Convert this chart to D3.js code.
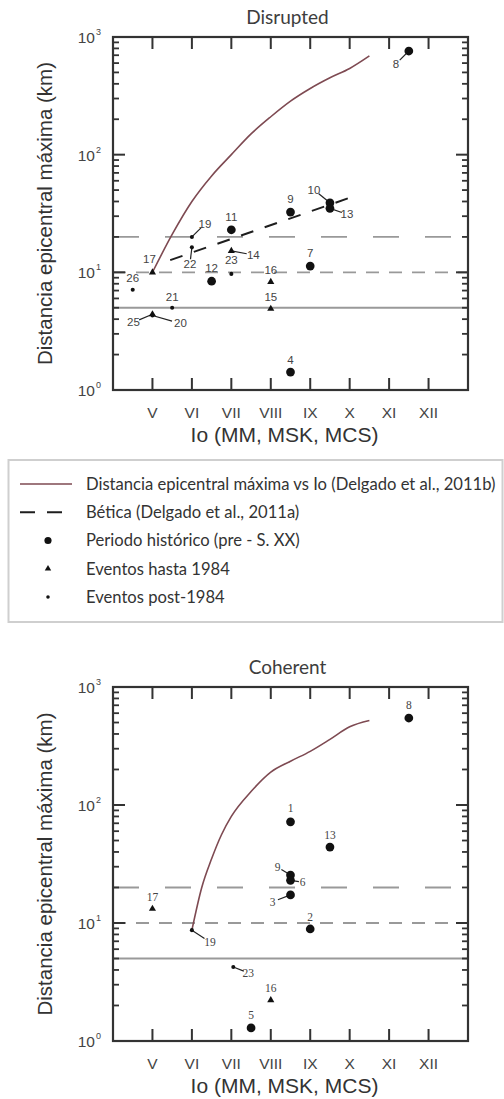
<!DOCTYPE html>
<html>
<head>
<meta charset="utf-8">
<script src="https://cdn.jsdelivr.net/npm/d3@7"></script>
<style>
  body { margin: 0; background: #fff; }
  svg { display: block; }
</style>
</head>
<body>
<svg id="chart" width="504" height="1099"></svg>
<script>
// ---- data ----
const ioTicks = [5, 6, 7, 8, 9, 10, 11, 12];
const ioLabels = ["V", "VI", "VII", "VIII", "IX", "X", "XI", "XII"];
const kmMajor = [1, 10, 100, 1000];
const kmExp = ["0", "1", "2", "3"];
const refLevels = [5, 10, 20]; // solid, short dash, long dash

// max epicentral distance curve (Delgado et al., 2011b)
const disruptedCurveIo = [5, 5.5, 6, 6.5, 7, 7.5, 8, 8.5, 9, 9.5, 10, 10.5];
const disruptedCurveKm = [10, 21, 40, 66, 100, 150, 210, 285, 365, 450, 540, 690];
const coherentCurveIo = [6, 6.25, 6.5, 6.75, 7, 7.5, 8, 8.5, 9, 9.5, 10, 10.5];
const coherentCurveKm = [8.7, 20, 35, 56, 80, 130, 190, 235, 285, 360, 460, 520];

// Bética (Delgado et al., 2011a)
const beticaIo = [5.45, 10.05];
const beticaKm = [12.7, 43.6];

// events: h = histórico, t = hasta 1984, d = post-1984
const disruptedIds = ["8", "9", "10", "13", "11", "12", "7", "4", "17", "14", "16", "15", "25", "19", "22", "23", "26", "21", "20"];
const disruptedIo  = [11.5, 8.5, 9.5, 9.5, 7.0, 6.5, 9.0, 8.5, 5.0, 7.0, 8.0, 8.0, 5.0, 6.0, 6.0, 7.0, 4.5, 5.5, 5.0];
const disruptedKm  = [760, 32.5, 39, 35, 23, 8.4, 11.3, 1.42, 10, 15.2, 8.3, 4.9, 4.4, 20, 16.3, 9.7, 7.1, 5.0, 4.3];
const disruptedType = ["h", "h", "h", "h", "h", "h", "h", "h", "t", "t", "t", "t", "t", "d", "d", "d", "d", "d", "d"];

const coherentIds = ["8", "1", "13", "9", "6", "3", "2", "5", "17", "16", "19", "23"];
const coherentIo  = [11.5, 8.5, 9.5, 8.5, 8.5, 8.5, 9.0, 7.5, 5.0, 8.0, 6.0, 7.05];
const coherentKm  = [546, 72, 44, 25.5, 23, 17.3, 8.9, 1.29, 13.2, 2.22, 8.7, 4.24];
const coherentType = ["h", "h", "h", "h", "h", "h", "h", "h", "t", "t", "d", "d"];

const legendLabels = [
  "Distancia epicentral máxima vs Io (Delgado et al., 2011b)",
  "Bética (Delgado et al., 2011a)",
  "Periodo histórico (pre - S. XX)",
  "Eventos hasta 1984",
  "Eventos post-1984"
];

// ---- label placement (px offsets from the marker), third flag = connector ----
const disruptedLabelPos = {
  "8": [-13, 13, true], "9": [0, -13], "10": [-16, -13, true], "13": [17, 6, true],
  "11": [0, -13], "12": [0, -13], "7": [0, -13], "4": [0, -12], "17": [-3, -13],
  "14": [22, 4, true], "16": [0, -12], "15": [0, -12], "25": [-19, 8, true],
  "19": [13, -13, true], "22": [-2, 17, true], "23": [0, -14], "26": [0, -12],
  "21": [0, -11], "20": [28, 8, true]
};
const coherentLabelPos = {
  "8": [0, -13], "1": [0, -14], "13": [0, -12], "9": [-13, -8, true], "6": [12, 2, true],
  "3": [-18, 7, true], "2": [0, -12], "5": [0, -13], "17": [0, -12], "16": [0, -12],
  "19": [18, 12, true], "23": [15, 6, true]
};

const curveColor = "#7e4a52";
const refColor = "#999";
const axisColor = "#333";
const textColor = "#3d3d3d";

const svg = d3.select("#chart");

function markerPath(type) {
  if (type === "h") return d3.symbol(d3.symbolCircle, 60)();
  if (type === "t") return d3.symbol(d3.symbolTriangle, 22)();
  return d3.symbol(d3.symbolCircle, 13)();
}

function drawPanel(opt) {
  const left = 113, right = 468;
  const x = d3.scaleLinear().domain([4, 13]).range([left, right]);
  const y = d3.scaleLog().domain([1, 1000]).range([opt.bottom, opt.top]);
  const g = svg.append("g");

  // title
  g.append("text")
    .attr("x", (left + right) / 2 - 3)
    .attr("y", opt.top - 13)
    .attr("text-anchor", "middle")
    .attr("font-family", "Lato, 'Open Sans', sans-serif")
    .attr("font-size", 19)
    .attr("fill", textColor)
    .text(opt.title);

  // reference levels
  const dashes = { 5: null, 10: "13,10", 20: "26,26" };
  g.append("g").selectAll("line")
    .data(refLevels)
    .join("line")
    .attr("x1", left).attr("x2", right)
    .attr("y1", d => y(d)).attr("y2", d => y(d))
    .attr("stroke", refColor)
    .attr("stroke-width", 1.8)
    .attr("stroke-dasharray", d => dashes[d]);

  // curve
  const line = d3.line()
    .x(d => x(d[0]))
    .y(d => y(d[1]))
    .curve(d3.curveMonotoneX);
  g.append("path")
    .datum(opt.curveIo.map((v, i) => [v, opt.curveKm[i]]))
    .attr("d", line)
    .attr("fill", "none")
    .attr("stroke", curveColor)
    .attr("stroke-width", 1.6);

  // Bética line (top panel only)
  if (opt.betica) {
    g.append("path")
      .datum(beticaIo.map((v, i) => [v, beticaKm[i]]))
      .attr("d", d3.line().x(d => x(d[0])).y(d => y(d[1])))
      .attr("fill", "none")
      .attr("stroke", "#1e1e1e")
      .attr("stroke-width", 2)
      .attr("stroke-dasharray", "13,12");
  }

  // points
  const pts = opt.ids.map((id, i) => ({
    id, io: opt.io[i], km: opt.km[i], type: opt.type[i], pos: opt.labelPos[id]
  }));

  // leader lines
  g.append("g").selectAll("line")
    .data(pts.filter(d => d.pos[2]))
    .join("line")
    .attr("x1", d => x(d.io)).attr("y1", d => y(d.km))
    .attr("x2", d => x(d.io) + d.pos[0] * 0.7)
    .attr("y2", d => y(d.km) + d.pos[1] * 0.7)
    .attr("stroke", "#222")
    .attr("stroke-width", 1.2);

  g.append("g").selectAll("path")
    .data(pts)
    .join("path")
    .attr("d", d => markerPath(d.type))
    .attr("transform", d => `translate(${x(d.io)},${y(d.km)})`)
    .attr("fill", "#111");

  g.append("g").selectAll("text")
    .data(pts)
    .join("text")
    .attr("x", d => x(d.io) + d.pos[0])
    .attr("y", d => y(d.km) + d.pos[1])
    .attr("dy", "0.35em")
    .attr("text-anchor", "middle")
    .attr("font-family", opt.labelFont)
    .attr("font-size", 11.5)
    .attr("fill", "#444")
    .text(d => d.id);

  // ticks, all inward, drawn as small filled bars
  const minor = [];
  [1, 10, 100].forEach(dec => d3.range(2, 10).forEach(m => minor.push(dec * m)));
  const tickBars = [];
  ioTicks.forEach(v => {
    tickBars.push({ x: x(v) - 1, y: opt.bottom - 12, w: 2, h: 12 });
    tickBars.push({ x: x(v) - 1, y: opt.top, w: 2, h: 12 });
  });
  kmMajor.forEach(v => {
    tickBars.push({ x: left, y: y(v) - 1, w: 12, h: 2 });
    tickBars.push({ x: right - 12, y: y(v) - 1, w: 12, h: 2 });
  });
  minor.forEach(v => {
    tickBars.push({ x: left, y: y(v) - 0.9, w: 6, h: 1.8 });
    tickBars.push({ x: right - 6, y: y(v) - 0.9, w: 6, h: 1.8 });
  });
  g.append("g").selectAll("rect")
    .data(tickBars)
    .join("rect")
    .attr("x", d => d.x).attr("y", d => d.y)
    .attr("width", d => d.w).attr("height", d => d.h)
    .attr("fill", axisColor);

  // frame
  g.append("rect")
    .attr("x", left).attr("y", opt.top)
    .attr("width", right - left).attr("height", opt.bottom - opt.top)
    .attr("fill", "none")
    .attr("stroke", axisColor)
    .attr("stroke-width", 2.2);

  // tick labels
  g.append("g").selectAll("text")
    .data(ioTicks)
    .join("text")
    .attr("x", d => x(d))
    .attr("y", opt.bottom + 28)
    .attr("text-anchor", "middle")
    .attr("font-family", "'Liberation Sans', Arial, sans-serif")
    .attr("font-size", 15.5)
    .attr("fill", "#444")
    .text((d, i) => ioLabels[i]);

  const yl = g.append("g")
    .attr("font-family", "'Liberation Sans', Arial, sans-serif")
    .attr("fill", "#444");
  kmMajor.forEach((v, i) => {
    yl.append("text")
      .attr("x", 95)
      .attr("y", y(v) + 6)
      .attr("text-anchor", "end")
      .attr("font-size", 15.5)
      .text("10");
    yl.append("text")
      .attr("x", 96)
      .attr("y", y(v) - 2)
      .attr("font-size", 9)
      .text(kmExp[i]);
  });

  // axis titles
  g.append("text")
    .attr("x", (left + right) / 2 - 6)
    .attr("y", opt.bottom + 52)
    .attr("text-anchor", "middle")
    .attr("font-family", "'Liberation Sans', Arial, sans-serif")
    .attr("font-size", 21)
    .attr("fill", "#333")
    .text("Io (MM, MSK, MCS)");

  g.append("text")
    .attr("transform", `translate(52,${(opt.top + opt.bottom) / 2}) rotate(-90)`)
    .attr("text-anchor", "middle")
    .attr("font-family", "'Liberation Sans', Arial, sans-serif")
    .attr("font-size", 20.5)
    .attr("fill", "#333")
    .text("Distancia epicentral máxima (km)");
}

drawPanel({
  title: "Disrupted", top: 37, bottom: 390,
  curveIo: disruptedCurveIo, curveKm: disruptedCurveKm, betica: true,
  ids: disruptedIds, io: disruptedIo, km: disruptedKm, type: disruptedType,
  labelPos: disruptedLabelPos, labelFont: "'Liberation Sans', Arial, sans-serif"
});

drawPanel({
  title: "Coherent", top: 687, bottom: 1041,
  curveIo: coherentCurveIo, curveKm: coherentCurveKm, betica: false,
  ids: coherentIds, io: coherentIo, km: coherentKm, type: coherentType,
  labelPos: coherentLabelPos, labelFont: "'Liberation Serif', 'Times New Roman', serif"
});

// ---- legend ----
const lg = svg.append("g");
lg.append("rect")
  .attr("x", 8.5).attr("y", 460)
  .attr("width", 494).attr("height", 162)
  .attr("fill", "none")
  .attr("stroke", "#cfcfcf")
  .attr("stroke-width", 2);

const rowY = d3.scalePoint().domain(d3.range(legendLabels.length)).range([484, 597]);

lg.append("line")
  .attr("x1", 20).attr("x2", 72).attr("y1", rowY(0)).attr("y2", rowY(0))
  .attr("stroke", curveColor).attr("stroke-width", 1.6);
lg.append("line")
  .attr("x1", 20).attr("x2", 64).attr("y1", rowY(1)).attr("y2", rowY(1))
  .attr("stroke", "#1e1e1e").attr("stroke-width", 2).attr("stroke-dasharray", "15,12");
["h", "t", "d"].forEach((t, i) => {
  lg.append("path")
    .attr("d", t === "h" ? d3.symbol(d3.symbolCircle, 40)() : t === "t" ? d3.symbol(d3.symbolTriangle, 18)() : d3.symbol(d3.symbolCircle, 10)())
    .attr("transform", `translate(48,${rowY(i + 2)})`)
    .attr("fill", "#111");
});

lg.selectAll("text.lab")
  .data(legendLabels)
  .join("text")
  .attr("class", "lab")
  .attr("x", 86)
  .attr("y", (d, i) => rowY(i))
  .attr("dy", "0.35em")
  .attr("font-family", "Lato, 'Open Sans', sans-serif")
  .attr("font-size", 16.6)
  .attr("fill", "#333")
  .text(d => d);
</script>
</body>
</html>
